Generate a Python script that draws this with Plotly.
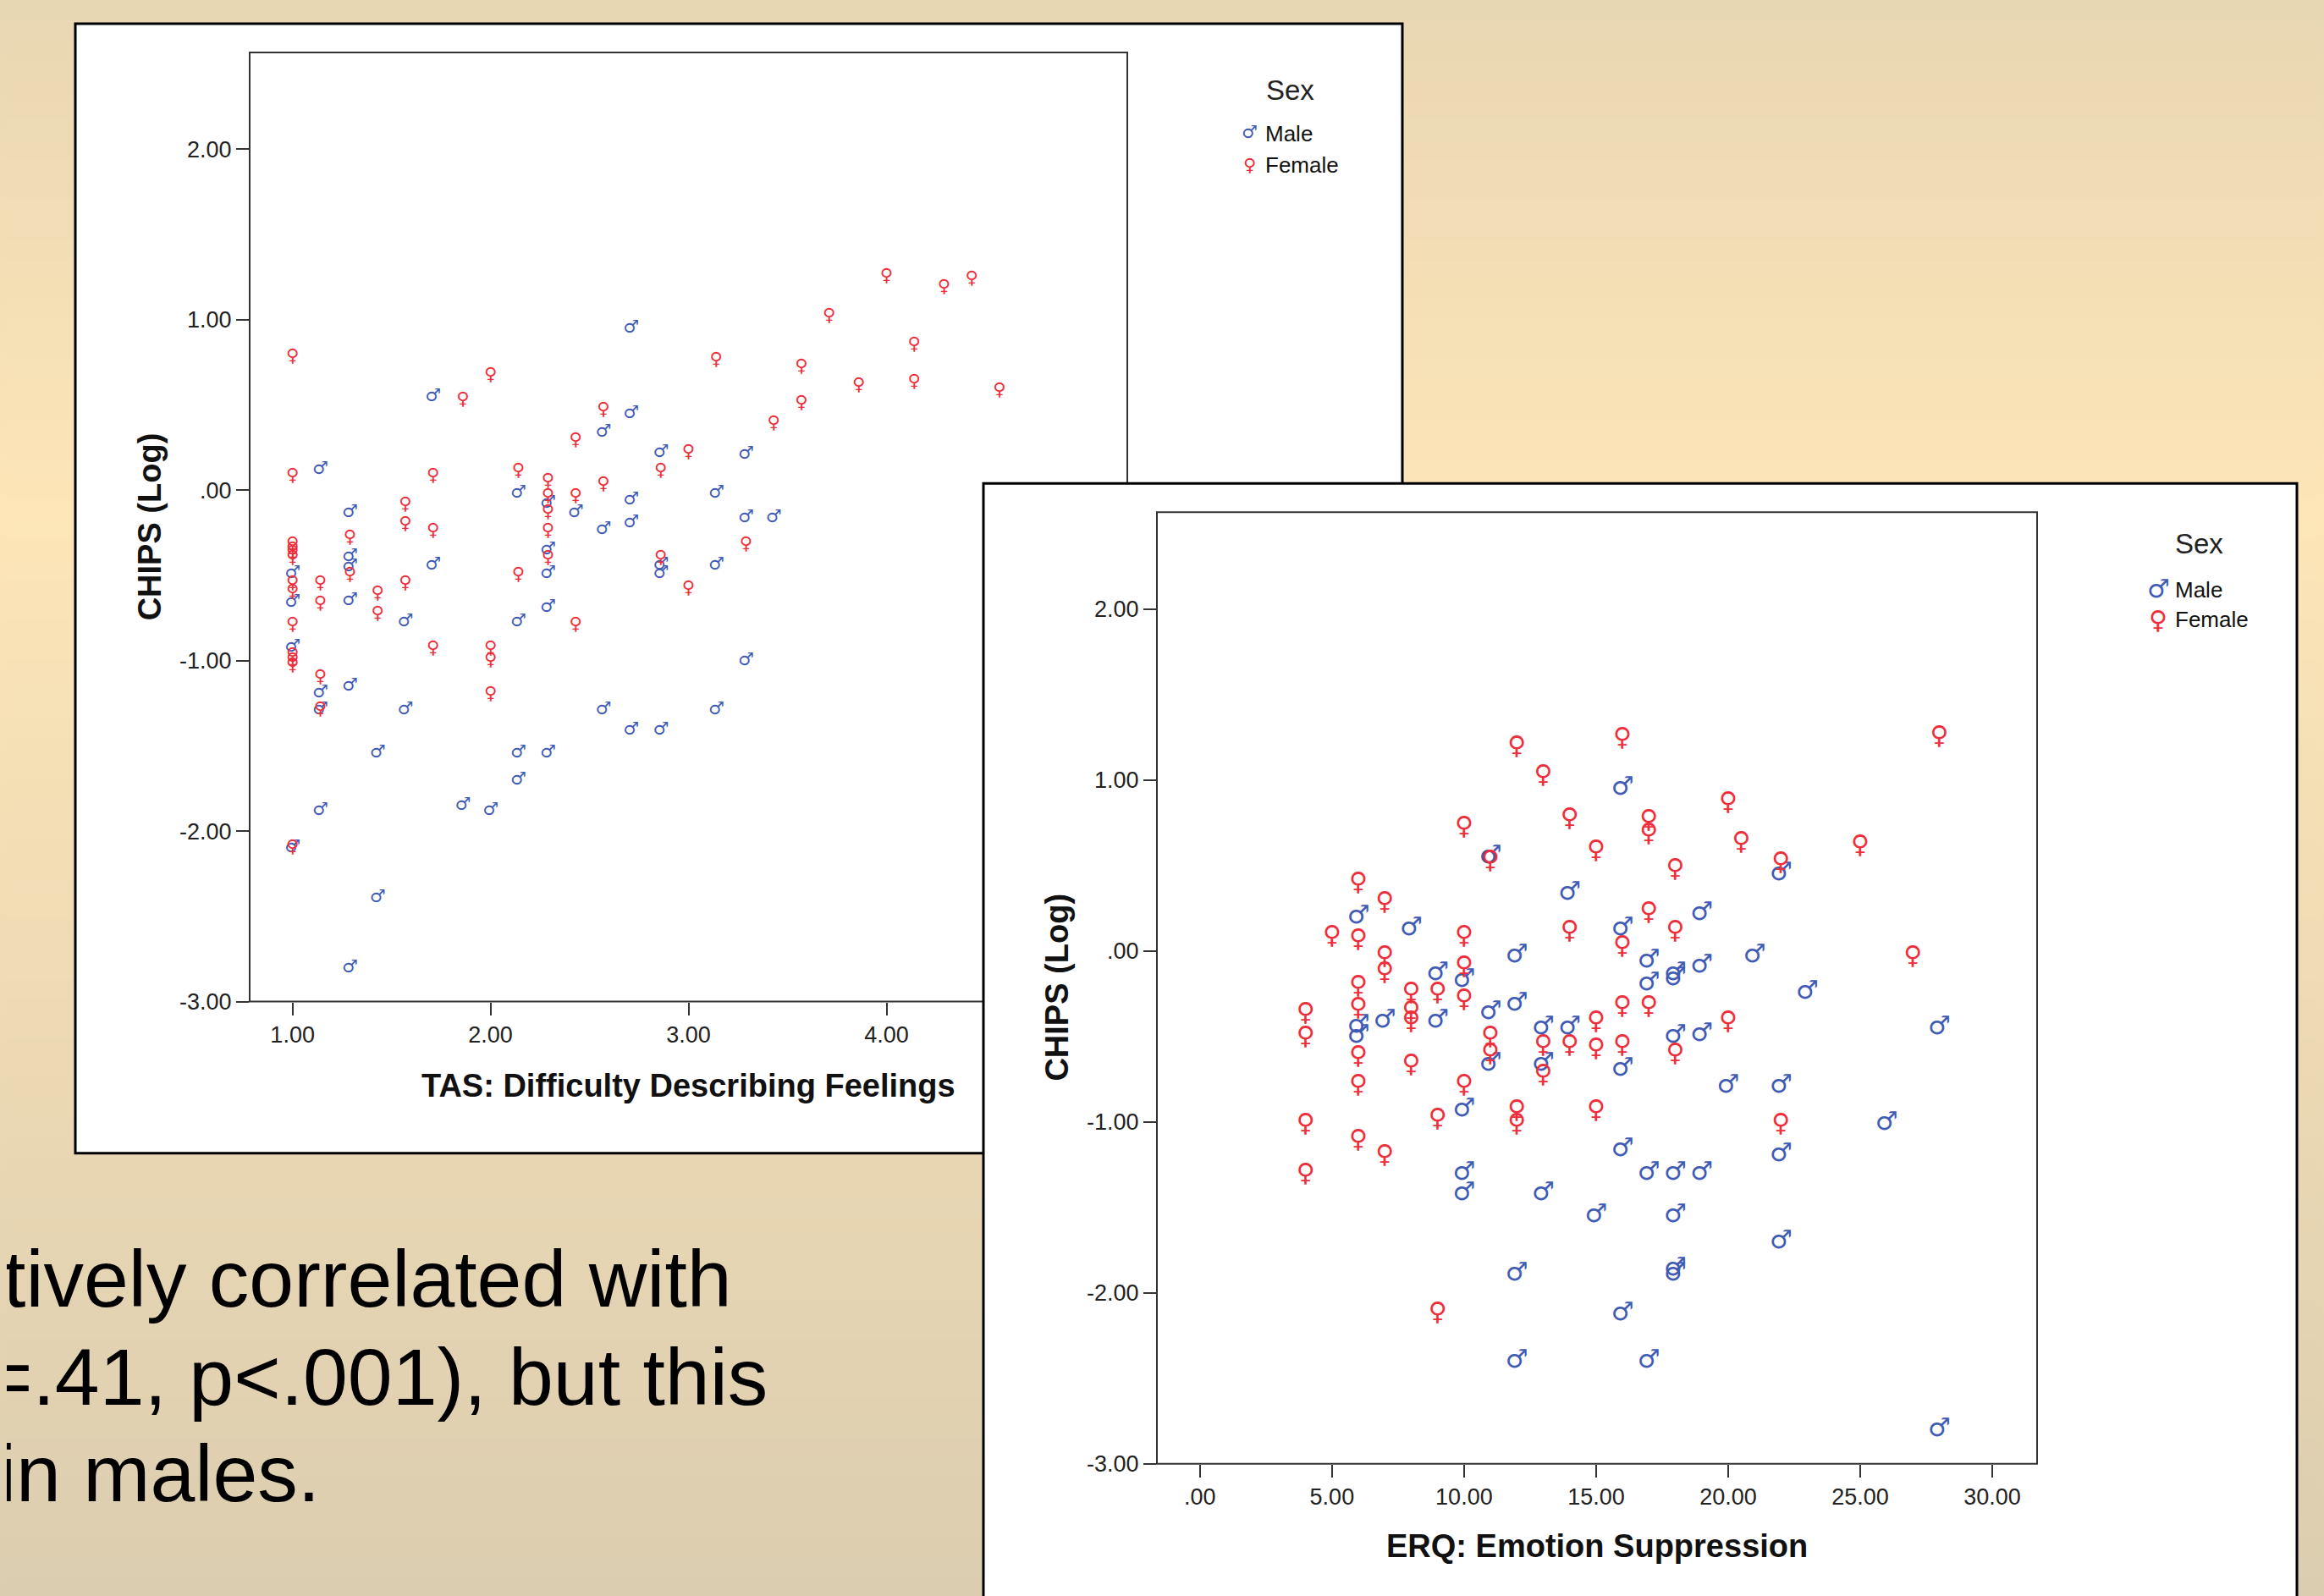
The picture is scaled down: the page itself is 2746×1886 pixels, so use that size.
import plotly.graph_objects as go

# ---------------- data ----------------
# Panel 1: TAS Difficulty Describing Feelings (x) vs CHIPS (Log) (y)
tas_male_x = [1.14, 1.71, 2.71, 2.71, 2.57, 2.86, 3.29, 2.14, 2.29, 2.43, 2.71, 3.14, 1.29,
              2.57, 2.71, 3.29, 3.43, 1.29, 1.29, 1.71, 2.29, 2.29, 2.86, 2.86, 3.14, 1.00,
              1.00, 1.29, 1.57, 2.14, 2.29, 1.00, 3.29, 1.14, 1.29, 1.14, 1.57, 2.57, 3.14,
              2.71, 2.86, 1.43, 2.14, 2.29, 2.14, 1.14, 1.86, 2.00, 1.00, 1.43, 1.29]
tas_male_y = [0.12, 0.55, 0.95, 0.45, 0.34, 0.22, 0.21, -0.02, -0.08, -0.13, -0.06, -0.02, -0.13,
              -0.23, -0.19, -0.16, -0.16, -0.39, -0.45, -0.44, -0.35, -0.49, -0.44, -0.49, -0.44, -0.49,
              -0.66, -0.65, -0.77, -0.77, -0.69, -0.92, -1.00, -1.19, -1.15, -1.29, -1.29, -1.29, -1.29,
              -1.41, -1.41, -1.54, -1.54, -1.54, -1.70, -1.88, -1.85, -1.88, -2.10, -2.39, -2.80]
tas_female_x = [1.00, 1.00, 1.71, 2.00, 1.86, 3.14, 3.57, 3.71, 4.00, 4.29, 4.43, 4.14, 3.86,
                4.14, 4.57, 3.57, 3.43, 2.57, 2.43, 2.14, 2.29, 2.86, 2.29, 2.29, 2.43, 2.57,
                1.57, 1.57, 1.71, 2.29, 3.29, 1.00, 1.00, 1.00, 1.00, 1.29, 2.29, 2.14, 2.86,
                1.29, 1.14, 1.00, 1.00, 1.14, 1.43, 1.57, 1.43, 2.43, 3.00, 3.00, 1.00, 1.00,
                1.00, 1.00, 1.71, 2.00, 2.00, 2.00, 1.14, 1.14, 1.00]
tas_female_y = [0.78, 0.08, 0.08, 0.67, 0.53, 0.76, 0.72, 1.02, 1.25, 1.19, 1.24, 0.85, 0.61,
                0.63, 0.58, 0.51, 0.39, 0.47, 0.29, 0.11, 0.05, 0.11, -0.04, -0.13, -0.04, 0.03,
                -0.09, -0.20, -0.24, -0.24, -0.32, -0.32, -0.35, -0.37, -0.40, -0.28, -0.40, -0.50, -0.40,
                -0.50, -0.55, -0.55, -0.60, -0.67, -0.61, -0.55, -0.73, -0.79, -0.58, 0.22, -0.79, -0.97,
                -1.00, -1.03, -0.93, -0.93, -1.00, -1.20, -1.10, -1.29, -2.10]

# Panel 2: ERQ Emotion Suppression (x) vs CHIPS (Log) (y)
erq_male_x = [16, 11, 22, 14, 6, 19, 8, 16, 12, 21, 17, 9, 10, 18, 18, 19, 17, 23, 11, 12, 7, 9,
              6, 6, 13, 14, 18, 19, 28, 11, 13, 16, 20, 22, 10, 26, 16, 22, 10, 17, 18, 19, 10,
              13, 15, 18, 22, 12, 18, 18, 16, 12, 17, 28]
erq_male_y = [0.95, 0.55, 0.45, 0.34, 0.20, 0.22, 0.13, 0.13, -0.03, -0.03, -0.06, -0.13, -0.17,
              -0.13, -0.16, -0.09, -0.19, -0.24, -0.36, -0.31, -0.41, -0.41, -0.44, -0.50, -0.45,
              -0.45, -0.50, -0.49, -0.45, -0.66, -0.66, -0.69, -0.79, -0.79, -0.93, -1.01, -1.16,
              -1.19, -1.30, -1.30, -1.30, -1.30, -1.42, -1.42, -1.55, -1.55, -1.70, -1.89, -1.86,
              -1.89, -2.12, -2.40, -2.40, -2.80]
erq_female_x = [12, 16, 28, 13, 20, 14, 17, 17, 10, 20.5, 25, 11, 15, 22, 18, 6, 7, 17, 5, 6, 10,
                14, 18, 16, 27, 7, 7, 10, 6, 8, 9, 10, 4, 6, 8, 8, 15, 16, 17, 20, 4, 11, 13, 14,
                15, 16, 18, 6, 11, 8, 13, 6, 10, 12, 12, 15, 9, 4, 22, 6, 7, 4, 9]
erq_female_y = [1.19, 1.24, 1.25, 1.02, 0.86, 0.77, 0.76, 0.68, 0.72, 0.63, 0.61, 0.52, 0.58, 0.51,
                0.47, 0.39, 0.28, 0.22, 0.08, 0.06, 0.08, 0.11, 0.11, 0.02, -0.04, -0.04, -0.13,
                -0.10, -0.21, -0.25, -0.25, -0.29, -0.37, -0.34, -0.36, -0.42, -0.42, -0.33, -0.33,
                -0.42, -0.51, -0.51, -0.56, -0.56, -0.58, -0.56, -0.61, -0.62, -0.61, -0.67, -0.73,
                -0.79, -0.79, -0.94, -1.02, -0.94, -0.99, -1.02, -1.02, -1.11, -1.20, -1.31, -2.12]

tas_tickvals = [1, 2, 3, 4]
tas_ticktext = ["1.00", "2.00", "3.00", "4.00"]
erq_tickvals = [0, 5, 10, 15, 20, 25, 30]
erq_ticktext = [".00", "5.00", "10.00", "15.00", "20.00", "25.00", "30.00"]
chips_tickvals = [-3, -2, -1, 0, 1, 2]
chips_ticktext = ["-3.00", "-2.00", "-1.00", ".00", "1.00", "2.00"]

body_lines = ["tively correlated with", "=.41, p<.001), but this", "in males."]

# ---------------- styling ----------------
REF_W, REF_H = 2746, 1886
CAPT_H = 1902                 # captured page height (observed), squeezed to REF_H
K = CAPT_H / REF_H
M = 8                         # default html body margin
W, H = REF_W - 2 * M, CAPT_H - 2 * M
MALE_C = "#3F5BB5"
FEMALE_C = "#EE2E3A"
FONT = "Liberation Sans, Arial, sans-serif"
GLYPH_FONT = "DejaVu Sans"


def px_x(p):
    """reference pixel x -> paper fraction"""
    return (p - M) / W


def px_y(p):
    """reference pixel y (from top) -> paper fraction"""
    return 1 - (p * K - M) / H


fig = go.Figure()

fig.add_trace(go.Scatter(x=tas_male_x, y=tas_male_y, mode="text", text=["♂"] * len(tas_male_x),
                         textfont=dict(family=GLYPH_FONT, size=21, color=MALE_C),
                         xaxis="x", yaxis="y", showlegend=False, name="Male"))
fig.add_trace(go.Scatter(x=tas_female_x, y=tas_female_y, mode="text", text=["♀"] * len(tas_female_x),
                         textfont=dict(family=GLYPH_FONT, size=21, color=FEMALE_C),
                         xaxis="x", yaxis="y", showlegend=False, name="Female"))
fig.add_trace(go.Scatter(x=erq_male_x, y=erq_male_y, mode="text", text=["♂"] * len(erq_male_x),
                         textfont=dict(family=GLYPH_FONT, size=30, color=MALE_C),
                         xaxis="x2", yaxis="y2", showlegend=False, name="Male"))
fig.add_trace(go.Scatter(x=erq_female_x, y=erq_female_y, mode="text", text=["♀"] * len(erq_female_x),
                         textfont=dict(family=GLYPH_FONT, size=30, color=FEMALE_C),
                         xaxis="x2", yaxis="y2", showlegend=False, name="Female"))

# ---------------- background & panels ----------------
shapes = []
stops = [(0, (232, 215, 179)), (600, (253, 229, 183)), (REF_H, (219, 205, 176))]


def bg_rgb(yc):
    for (y0, c0), (y1, c1) in zip(stops[:-1], stops[1:]):
        if y0 <= yc <= y1:
            t = (yc - y0) / (y1 - y0)
            return tuple(round(a + (b - a) * t) for a, b in zip(c0, c1))
    return stops[-1][1]


nb = 80
for i in range(nb):
    y0 = REF_H * i / nb
    y1 = REF_H * (i + 1) / nb
    shapes.append(dict(type="rect", xref="paper", yref="paper", x0=-0.01, x1=1.01,
                       y0=px_y(y1) - 0.002, y1=px_y(y0) + (0.01 if i == 0 else 0),
                       fillcolor="rgb(%d,%d,%d)" % bg_rgb((y0 + y1) / 2),
                       line=dict(width=0), layer="below"))

# panel 1 card
shapes.append(dict(type="rect", xref="paper", yref="paper", x0=px_x(89), x1=px_x(1657),
                   y0=px_y(1362), y1=px_y(28), fillcolor="white",
                   line=dict(color="black", width=3), layer="below"))
# panel 1 frame
shapes.append(dict(type="rect", xref="paper", yref="paper", x0=px_x(295), x1=px_x(1332),
                   y0=px_y(1183), y1=px_y(62), fillcolor="rgba(0,0,0,0)",
                   line=dict(color="#333333", width=2), layer="below"))
# panel 2 card (overlapping)
shapes.append(dict(type="rect", xref="paper", yref="paper", x0=px_x(1162), x1=px_x(2714),
                   y0=-0.05, y1=px_y(571), fillcolor="white",
                   line=dict(color="black", width=3), layer="below"))
# panel 2 frame
shapes.append(dict(type="rect", xref="paper", yref="paper", x0=px_x(1367), x1=px_x(2407),
                   y0=px_y(1729), y1=px_y(605), fillcolor="rgba(0,0,0,0)",
                   line=dict(color="#333333", width=2), layer="below"))

# ---------------- annotations ----------------
ann = []
title_font = dict(family=FONT, size=38, color="#111111", weight="bold")
ann.append(dict(text="TAS: Difficulty Describing Feelings", xref="paper", yref="paper",
                x=px_x(813), y=px_y(1282), xanchor="center", yanchor="middle",
                showarrow=False, font=title_font))
ann.append(dict(text="CHIPS (Log)", xref="paper", yref="paper", textangle=-90,
                x=px_x(177), y=px_y(622), xanchor="center", yanchor="middle",
                showarrow=False, font=title_font))
ann.append(dict(text="ERQ: Emotion Suppression", xref="paper", yref="paper",
                x=px_x(1887), y=px_y(1826), xanchor="center", yanchor="middle",
                showarrow=False, font=title_font))
ann.append(dict(text="CHIPS (Log)", xref="paper", yref="paper", textangle=-90,
                x=px_x(1249), y=px_y(1166), xanchor="center", yanchor="middle",
                showarrow=False, font=title_font))

# legends
leg_title_font = dict(family=FONT, size=33, color="#222222")
leg_item_font = dict(family=FONT, size=26, color="#111111")
for (cx, ty, lx, my, fy, sx, gsize) in [(1524, 106, 1493, 158, 195, 1476, 21),
                                         (2598, 642, 2568, 697, 732, 2550, 30)]:
    ann.append(dict(text="Sex", xref="paper", yref="paper", x=px_x(cx), y=px_y(ty),
                    xanchor="center", yanchor="middle", showarrow=False, font=leg_title_font))
    ann.append(dict(text="Male", xref="paper", yref="paper", x=px_x(lx), y=px_y(my),
                    xanchor="left", yanchor="middle", showarrow=False, font=leg_item_font))
    ann.append(dict(text="Female", xref="paper", yref="paper", x=px_x(lx), y=px_y(fy),
                    xanchor="left", yanchor="middle", showarrow=False, font=leg_item_font))
    ann.append(dict(text="♂", xref="paper", yref="paper", x=px_x(sx), y=px_y(my - 2),
                    xanchor="center", yanchor="middle", showarrow=False,
                    font=dict(family=GLYPH_FONT, size=gsize, color=MALE_C)))
    ann.append(dict(text="♀", xref="paper", yref="paper", x=px_x(sx), y=px_y(fy),
                    xanchor="center", yanchor="middle", showarrow=False,
                    font=dict(family=GLYPH_FONT, size=gsize, color=FEMALE_C)))

# body text of the slide
body_font = dict(family=FONT, size=95, color="black")
for line, rx, cy in zip(body_lines, [867, 909, 380], [1510, 1626, 1740]):
    ann.append(dict(text=line, xref="paper", yref="paper", x=px_x(rx), y=px_y(cy),
                    xanchor="right", yanchor="middle", showarrow=False, font=body_font))

tick_font = dict(family=FONT, size=27, color="#222222")
axis_common = dict(showgrid=False, zeroline=False, showline=False, ticks="outside",
                   ticklen=15, tickwidth=2, tickcolor="#333333", tickfont=tick_font,
                   fixedrange=True)

fig.update_layout(
    width=W, height=H,
    margin=dict(l=0, r=0, t=0, b=0),
    paper_bgcolor="rgb(240,221,181)",
    plot_bgcolor="rgba(0,0,0,0)",
    showlegend=False,
    shapes=shapes,
    annotations=ann,
    xaxis=dict(domain=[px_x(295), px_x(1332)], range=[0.7835, 5.216], anchor="y",
               tickmode="array", tickvals=tas_tickvals, ticktext=tas_ticktext, **axis_common),
    yaxis=dict(domain=[px_y(1183), px_y(62)], range=[-3.0, 2.566], anchor="x",
               tickmode="array", tickvals=chips_tickvals, ticktext=chips_ticktext, **axis_common),
    xaxis2=dict(domain=[px_x(1367), px_x(2407)], range=[-1.63, 31.7], anchor="y2",
                tickmode="array", tickvals=erq_tickvals, ticktext=erq_ticktext, **axis_common),
    yaxis2=dict(domain=[px_y(1729), px_y(605)], range=[-3.0, 2.566], anchor="x2",
                tickmode="array", tickvals=chips_tickvals, ticktext=chips_ticktext, **axis_common),
)

# page background in the body margins: slide gradient, plus the bottom of the second card
fig_bottom = M + H
grad = ",".join("rgb(%d,%d,%d) %dpx" % (bg_rgb(y) + (round(y * K),)) for y in (0, 600, REF_H))
layers = [
    "linear-gradient(black,black) no-repeat 1161px %dpx / 3px 80px" % (fig_bottom - 2),
    "linear-gradient(black,black) no-repeat 2713px %dpx / 3px 80px" % (fig_bottom - 2),
    "linear-gradient(white,white) no-repeat 1162px %dpx / 1552px 80px" % (fig_bottom - 2),
    "linear-gradient(to bottom," + grad + ") no-repeat 0 0 / 100% 1980px",
]
page_bg = "document.documentElement.style.background='" + ",".join(layers) + "';"
fig.write_html("out.html", config={"displayModeBar": False}, post_script=page_bg)
